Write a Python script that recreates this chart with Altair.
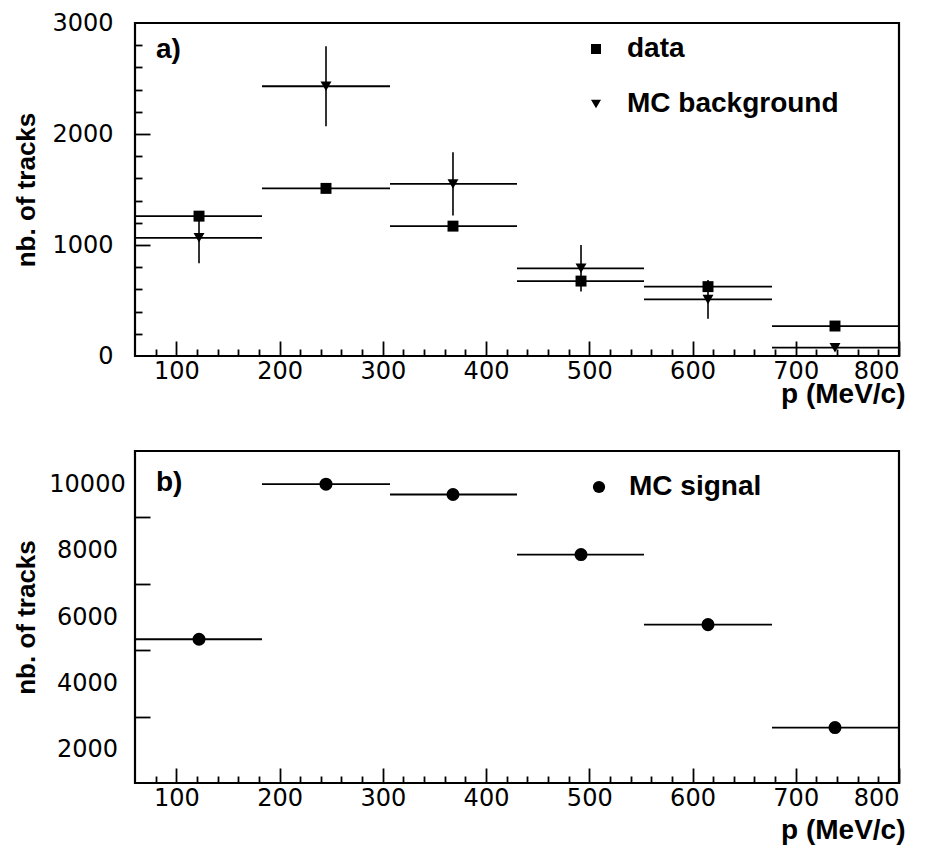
import altair as alt
import pandas as pd

# ---------------- data ----------------
bin_low = [60, 183, 307, 430, 553, 677]
bin_high = [183, 307, 430, 553, 677, 800]
bin_mid = [122, 245, 368, 492, 615, 738]

data_tracks = [1260, 1510, 1170, 675, 625, 270]
mc_bkg_tracks = [1065, 2430, 1550, 790, 510, 75]
mc_bkg_err = [230, 360, 285, 210, 175, 30]
mc_sig_tracks = [5330, 10000, 9690, 7880, 5770, 2670]

series_top = ["data", "MC background"]
series_bottom = ["MC signal"]
panel_tags = ["a)", "b)"]

x_domain = [60, 800]
x_labels = [100, 200, 300, 400, 500, 600, 700, 800]
x_minor = [80, 120, 140, 160, 180, 220, 240, 260, 280, 320, 340, 360, 380,
           420, 440, 460, 480, 520, 540, 560, 580, 620, 640, 660, 680,
           720, 740, 760, 780]

top_y_domain = [0, 3000]
top_y_labels = [0, 1000, 2000, 3000]
top_y_major = [1000, 2000]
top_y_minor = [200, 400, 600, 800, 1200, 1400, 1600, 1800, 2200, 2400, 2600, 2800]

bot_y_domain = [1000, 11000]
bot_y_labels = [2000, 4000, 6000, 8000, 10000]
bot_y_major = [3000, 5000, 7000, 9000]

# ---------------- style ----------------
W = 764
H_TOP = 333
H_BOT = 332
NUM_FONT = "DejaVu Sans"
TXT_FONT = "Liberation Sans"
NUM_SIZE = 24
TXT_SIZE = 28

# ---------------- tables ----------------
top_h = pd.DataFrame({
    "series": [series_top[0]] * 6 + [series_top[1]] * 6,
    "lo": bin_low + bin_low,
    "hi": bin_high + bin_high,
    "val": data_tracks + mc_bkg_tracks,
})
top_v = pd.DataFrame({
    "mid": bin_mid,
    "lo": [v - e for v, e in zip(mc_bkg_tracks, mc_bkg_err)],
    "hi": [v + e for v, e in zip(mc_bkg_tracks, mc_bkg_err)],
})
top_p = pd.DataFrame({
    "series": [series_top[0]] * 6 + [series_top[1]] * 6,
    "mid": bin_mid + bin_mid,
    "val": data_tracks + mc_bkg_tracks,
})
bot_h = pd.DataFrame({"lo": bin_low, "hi": bin_high, "val": mc_sig_tracks})
bot_p = pd.DataFrame({"series": series_bottom * 6, "mid": bin_mid, "val": mc_sig_tracks})


def panel(h_df, p_df, v_df, y_domain, y_labels, y_major, y_minor, H,
          label_align, label_pad, title_y, shape_domain, shape_range,
          sym_size, leg_x, leg_y, leg_offset, tag, tag_y):
    xs = alt.Scale(domain=x_domain, nice=False, zero=False)
    ys = alt.Scale(domain=y_domain, nice=False, zero=False)

    main_x = alt.Axis(values=x_labels, format="d", ticks=False, domain=False, grid=False,
                      labelFont=NUM_FONT, labelFontSize=NUM_SIZE, labelColor="black",
                      labelPadding=3, title="p (MeV/c)", titleFont=TXT_FONT,
                      titleFontSize=TXT_SIZE, titleFontWeight="bold", titleColor="black",
                      titleX=W + 6, titleY=title_y, titleAlign="right",
                      titleBaseline="alphabetic", orient="bottom")
    main_y = alt.Axis(values=y_labels, format="d", ticks=False, domain=False, grid=False,
                      labelFont=NUM_FONT, labelFontSize=NUM_SIZE, labelColor="black",
                      labelAlign=label_align, labelPadding=label_pad,
                      title="nb. of tracks", titleFont=TXT_FONT, titleFontSize=TXT_SIZE - 2,
                      titleFontWeight="bold", titleColor="black", titleX=-101,
                      titleBaseline="alphabetic", orient="left")

    hl = alt.Chart(h_df).mark_rule(color="black", strokeWidth=1.8).encode(
        x=alt.X("lo:Q", scale=xs, axis=main_x),
        x2="hi:Q",
        y=alt.Y("val:Q", scale=ys, axis=main_y),
    )
    layers = [hl]

    # frame around the plot area, spanning the full scale domains
    frame = alt.Chart(p_df.head(1)).mark_rect(filled=False, stroke="#000000", strokeWidth=2.2,
                                               strokeOpacity=1).encode(
        x=alt.XDatum(x_domain[0], scale=xs, axis=None),
        x2=alt.X2Datum(x_domain[1]),
        y=alt.YDatum(y_domain[0], scale=ys, axis=None),
        y2=alt.Y2Datum(y_domain[1]),
    )
    layers.append(frame)

    if v_df is not None:
        vl = alt.Chart(v_df).mark_rule(color="black", strokeWidth=1.6).encode(
            x=alt.X("mid:Q", scale=xs, axis=None),
            y=alt.Y("lo:Q", scale=ys, axis=None),
            y2="hi:Q",
        )
        layers.append(vl)

    pts = alt.Chart(p_df).mark_point(filled=True, opacity=1, color="black", size=sym_size + 20).encode(
        x=alt.X("mid:Q", scale=xs, axis=None),
        y=alt.Y("val:Q", scale=ys, axis=None),
        shape=alt.Shape("series:N",
                        scale=alt.Scale(domain=shape_domain, range=shape_range),
                        legend=alt.Legend(orient="none", legendX=leg_x, legendY=leg_y,
                                          title=None, labelFont=TXT_FONT,
                                          labelFontSize=TXT_SIZE, labelFontWeight="bold",
                                          labelColor="black", labelLimit=0,
                                          symbolSize=sym_size,
                                          symbolFillColor="black", symbolStrokeColor="black",
                                          symbolStrokeWidth=0, symbolOpacity=1,
                                          rowPadding=27, labelOffset=leg_offset, padding=0)),
    )
    layers.append(pts)

    # inward ticks (axes placed on the opposite edge with a negative offset)
    def tick_layer(xv, yv, size):
        return alt.Chart(p_df).mark_point(opacity=0).encode(
            x=alt.X("mid:Q", scale=xs,
                    axis=alt.Axis(orient="top", offset=-H, values=xv, labels=False,
                                  domain=False, grid=False, title=None, ticks=True,
                                  tickSize=size, tickWidth=1.8, tickColor="#000000",
                                  tickOpacity=1)),
            y=alt.Y("val:Q", scale=ys,
                    axis=alt.Axis(orient="right", offset=-W, values=yv, labels=False,
                                  domain=False, grid=False, title=None, ticks=True,
                                  tickSize=size, tickWidth=1.8, tickColor="#000000",
                                  tickOpacity=1)),
        )

    layers.append(tick_layer(x_labels, y_major, 15))
    layers.append(tick_layer(x_minor, y_minor, 7))

    tag_df = pd.DataFrame({"tag": [tag]})
    tg = alt.Chart(tag_df).mark_text(align="left", baseline="alphabetic", font=TXT_FONT,
                                     fontSize=TXT_SIZE, fontWeight="bold", color="black").encode(
        x=alt.value(21), y=alt.value(tag_y), text="tag:N")
    layers.append(tg)

    return alt.layer(*layers).resolve_axis(x="independent", y="independent").properties(
        width=W, height=H)


top = panel(top_h, top_p, top_v, top_y_domain, top_y_labels, top_y_major, top_y_minor, H_TOP,
            "right", 22, 46, series_top, ["square", "triangle-down"], 100,
            447, 12, 17, panel_tags[0], 35)
bottom = panel(bot_h, bot_p, None, bot_y_domain, bot_y_labels, bot_y_major, [], H_BOT,
               "center", 48, 55, series_bottom, ["circle"], 150,
               450, 22, 16, panel_tags[1], 40)

chart = alt.vconcat(top, bottom, spacing=40).resolve_scale(shape="independent").properties(
    padding={"left": 4, "top": 2, "right": 0, "bottom": 0}
).configure_view(stroke="transparent").configure(background="white")

chart.save("out.html", embed_options={"renderer": "svg", "actions": False})
